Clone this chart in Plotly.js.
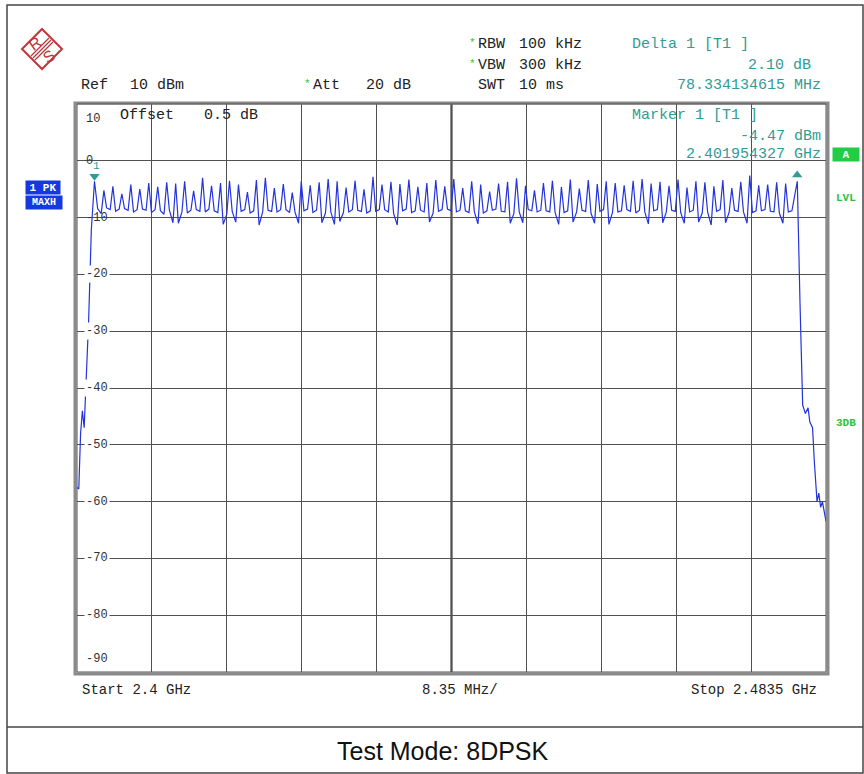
<!DOCTYPE html>
<html>
<head>
<meta charset="utf-8">
<script src="https://cdn.plot.ly/plotly-3.0.1.min.js"></script>
<style>html,body{margin:0;padding:0;background:#fff;}#chart{width:864px;height:774px;}</style>
</head>
<body>
<div id="chart"></div>
<script>
// ---- data ----
const freqMHz = [
  2400.0, 2400.2, 2400.4, 2400.6, 2400.8, 2401.0, 2401.3, 2401.6, 2401.95, 2402.3, 2402.7,
  2403, 2403.3, 2403.7, 2404, 2404.3, 2404.7, 2405, 2405.3, 2405.7, 2406, 2406.3, 2406.7,
  2407, 2407.3, 2407.7, 2408, 2408.3, 2408.7, 2409, 2409.3, 2409.7, 2410, 2410.3, 2410.7,
  2411, 2411.3, 2411.7, 2412, 2412.3, 2412.7, 2413, 2413.3, 2413.7, 2414, 2414.3, 2414.7,
  2415, 2415.3, 2415.7, 2416, 2416.3, 2416.7, 2417, 2417.3, 2417.7, 2418, 2418.3, 2418.7,
  2419, 2419.3, 2419.7, 2420, 2420.3, 2420.7, 2421, 2421.3, 2421.7, 2422, 2422.3, 2422.7,
  2423, 2423.3, 2423.7, 2424, 2424.3, 2424.7, 2425, 2425.3, 2425.7, 2426, 2426.3, 2426.7,
  2427, 2427.3, 2427.7, 2428, 2428.3, 2428.7, 2429, 2429.3, 2429.7, 2430, 2430.3, 2430.7,
  2431, 2431.3, 2431.7, 2432, 2432.3, 2432.7, 2433, 2433.3, 2433.7, 2434, 2434.3, 2434.7,
  2435, 2435.3, 2435.7, 2436, 2436.3, 2436.7, 2437, 2437.3, 2437.7, 2438, 2438.3, 2438.7,
  2439, 2439.3, 2439.7, 2440, 2440.3, 2440.7, 2441, 2441.3, 2441.7, 2442, 2442.3, 2442.7,
  2443, 2443.3, 2443.7, 2444, 2444.3, 2444.7, 2445, 2445.3, 2445.7, 2446, 2446.3, 2446.7,
  2447, 2447.3, 2447.7, 2448, 2448.3, 2448.7, 2449, 2449.3, 2449.7, 2450, 2450.3, 2450.7,
  2451, 2451.3, 2451.7, 2452, 2452.3, 2452.7, 2453, 2453.3, 2453.7, 2454, 2454.3, 2454.7,
  2455, 2455.3, 2455.7, 2456, 2456.3, 2456.7, 2457, 2457.3, 2457.7, 2458, 2458.3, 2458.7,
  2459, 2459.3, 2459.7, 2460, 2460.3, 2460.7, 2461, 2461.3, 2461.7, 2462, 2462.3, 2462.7,
  2463, 2463.3, 2463.7, 2464, 2464.3, 2464.7, 2465, 2465.3, 2465.7, 2466, 2466.3, 2466.7,
  2467, 2467.3, 2467.7, 2468, 2468.3, 2468.7, 2469, 2469.3, 2469.7, 2470, 2470.3, 2470.7,
  2471, 2471.3, 2471.7, 2472, 2472.3, 2472.7, 2473, 2473.3, 2473.7, 2474, 2474.3, 2474.7,
  2475, 2475.3, 2475.7, 2476, 2476.3, 2476.7, 2477, 2477.3, 2477.7, 2478, 2478.3, 2478.7,
  2479, 2479.3, 2479.7, 2480.3, 2480.6, 2480.9, 2481.2, 2481.5, 2481.7,
  2482.0, 2482.2, 2482.5, 2482.7, 2482.9, 2483.1, 2483.3, 2483.5
];
const levelDbm = [
  -57.5, -57.8, -48, -44, -47, -40, -28, -12, -3.6, -8.4, -9.3,
  -5.2, -8.3, -8.6, -4.5, -8.9, -8.5, -5.8, -8.4, -8.7, -4.2, -9.0, -8.6,
  -5.0, -8.5, -8.7, -3.9, -9.1, -8.6, -4.6, -8.8, -9.4, -3.8, -8.7, -10.9,
  -4.0, -11.0, -9.0, -3.6, -9.2, -8.7, -5.3, -8.6, -8.9, -3.0, -9.0, -8.5,
  -4.4, -8.8, -9.1, -3.9, -11.2, -9.4, -3.5, -8.9, -10.8, -4.2, -8.9, -8.6,
  -5.5, -9.2, -8.8, -3.4, -11.3, -9.0, -3.0, -8.7, -8.9, -4.8, -9.0, -8.6,
  -4.1, -8.6, -9.1, -5.6, -9.0, -11.0, -3.6, -8.8, -8.5, -4.3, -9.1, -8.7,
  -3.8, -10.9, -9.2, -3.2, -9.0, -11.2, -3.6, -10.7, -9.1, -4.7, -9.0, -8.6,
  -3.5, -8.7, -8.9, -5.0, -9.2, -8.8, -2.8, -8.9, -8.6, -4.2, -8.6, -9.0,
  -3.7, -9.3, -11.3, -4.1, -8.8, -8.5, -3.3, -9.1, -8.8, -4.6, -8.7, -9.0,
  -3.9, -10.8, -9.2, -3.4, -8.9, -8.6, -4.5, -8.5, -8.8, -3.2, -9.0, -8.7,
  -4.8, -8.8, -9.1, -3.6, -9.0, -11.1, -4.2, -9.2, -8.8, -5.4, -8.7, -8.5,
  -4.0, -8.9, -9.0, -3.7, -11.0, -9.3, -3.1, -9.0, -10.9, -4.4, -8.6, -8.8,
  -5.2, -9.0, -8.7, -3.9, -8.8, -9.0, -3.5, -9.1, -11.2, -4.6, -9.1, -8.8,
  -3.3, -10.8, -9.0, -4.9, -8.7, -8.9, -3.4, -9.2, -11.0, -4.1, -8.9, -8.6,
  -3.6, -11.2, -9.1, -3.9, -9.0, -8.8, -4.3, -8.6, -8.9, -3.5, -9.2, -8.7,
  -3.2, -9.0, -11.1, -4.0, -8.8, -8.6, -3.7, -10.9, -9.0, -4.4, -8.7, -8.9,
  -3.3, -9.1, -11.0, -4.7, -9.0, -8.7, -3.6, -10.8, -9.2, -3.8, -9.0, -11.3,
  -4.5, -8.9, -8.6, -3.4, -10.9, -9.1, -4.8, -8.7, -8.9, -3.7, -9.0, -11.0,
  -2.6, -9.1, -8.8, -4.3, -8.8, -8.6, -4.2, -8.9, -9.0, -3.8, -9.2, -11.0,
  -4.0, -9.0, -8.8, -3.6, -25, -43, -44.5, -43.5, -46,
  -47, -53, -60, -58.5, -61, -60, -62, -63.5
];
const markerFreqs = [2401.954327, 2480.288462];
const markerTriY = [-2.7, -2.5];
const markerSymbols = ['triangle-down', 'triangle-up'];
const yTickVals = [10, 0, -10, -20, -30, -40, -50, -60, -70, -80, -90];
const yTickText = ['10', '0', '-10', '-20', '-30', '-40', '-50', '-60', '-70', '-80', '-90'];
const xStartMHz = 2400, xStopMHz = 2483.5, xDivMHz = 8.35;

// ---- geometry helpers (pixel -> paper) ----
const L = 77, R = 826, T = 104, B = 672;
const px = p => (p - L) / (R - L);
const py = p => (B - p) / (B - T);

const MONO = 'Courier New, Liberation Mono, monospace';
const TEAL = '#2f9c95';
const GREEN = '#2fc03a';
const BLUE = '#1538e0';
const LOGO = '#c0363a';

const ann = [];
function txt(text, x, y, opts) {
  opts = opts || {};
  ann.push({
    text: text, xref: 'paper', yref: 'paper', x: px(x), y: py(y),
    xanchor: opts.xa || 'left', yanchor: 'middle', showarrow: false,
    font: {family: MONO, size: opts.size || 15, color: opts.color || '#222', weight: opts.weight || 'normal'}
  });
}

// header
txt('*', 467, 43, {color: GREEN, size: 11});
txt('RBW', 476, 45);
txt('100 kHz', 517, 45);
txt('*', 467, 64, {color: GREEN, size: 11});
txt('VBW', 476, 66);
txt('300 kHz', 517, 66);
txt('SWT', 476, 86);
txt('10 ms', 517, 86);
txt('Ref', 79, 86);
txt('10 dBm', 128, 86);
txt('*', 302, 84, {color: GREEN, size: 11});
txt('Att', 311, 86);
txt('20 dB', 364, 86);
txt('Delta 1 [T1 ]', 630, 45, {color: TEAL});
txt('2.10 dB', 813, 66, {color: TEAL, xa: 'right'});
txt('78.334134615 MHz', 823, 86, {color: TEAL, xa: 'right'});
txt('Marker 1 [T1 ]', 630, 115, {color: TEAL});
txt('-4.47 dBm', 823, 136, {color: TEAL, xa: 'right'});
txt('2.401954327 GHz', 823, 154, {color: TEAL, xa: 'right'});
txt('Offset', 118, 116);
txt('0.5 dB', 202, 116);
// footer
txt('Start 2.4 GHz', 80, 690, {size: 14});
txt('8.35 MHz/', 420, 690, {size: 14});
txt('Stop 2.4835 GHz', 819, 690, {size: 14, xa: 'right'});
// side labels
txt('LVL', 846, 198, {color: GREEN, size: 11, xa: 'center', weight: 'bold'});
txt('3DB', 846, 423, {color: GREEN, size: 11, xa: 'center', weight: 'bold'});

// blue / green boxes
ann.push({text: '<b>1 PK</b>', xref: 'paper', yref: 'paper', x: px(25), y: py(187), xanchor: 'left', yanchor: 'middle',
  showarrow: false, bgcolor: BLUE, width: 34, height: 13, borderpad: 0, font: {family: MONO, size: 11, color: '#fff'}});
ann.push({text: '<b>MAXH</b>', xref: 'paper', yref: 'paper', x: px(25), y: py(202), xanchor: 'left', yanchor: 'middle',
  showarrow: false, bgcolor: BLUE, width: 36, height: 13, borderpad: 0, font: {family: MONO, size: 10, color: '#fff'}});
ann.push({text: '<b>A</b>', xref: 'paper', yref: 'paper', x: px(832), y: py(154), xanchor: 'left', yanchor: 'middle',
  showarrow: false, bgcolor: '#22cc44', width: 26, height: 13, borderpad: 0, font: {family: MONO, size: 11, color: '#fff'}});

// y tick labels inside the grid
yTickVals.forEach((v, i) => {
  let anchor = 'middle';
  if (v === 10) { anchor = 'top'; }
  if (v === -90) { anchor = 'bottom'; }
  ann.push({text: yTickText[i], xref: 'paper', yref: 'y', x: px(84), y: v, xanchor: 'left', yanchor: anchor,
    yshift: v === 10 ? -6 : (v === -90 ? 4 : 0),
    showarrow: false, bgcolor: (v <= -20 && v >= -80) ? '#ffffff' : 'rgba(0,0,0,0)', borderpad: 1,
    font: {family: MONO, size: 12, color: '#333'}});
});
// marker label "1"
ann.push({text: '1', xref: 'x', yref: 'y', x: markerFreqs[0], y: markerTriY[0], yshift: 10, xshift: 2, showarrow: false,
  xanchor: 'center', yanchor: 'middle', font: {family: MONO, size: 11, color: TEAL}});
// R&S logo letters
ann.push({text: 'R', xref: 'paper', yref: 'paper', x: px(35), y: py(43), showarrow: false, xanchor: 'center', yanchor: 'middle',
  textangle: -35, font: {family: 'Liberation Sans, Arial', size: 16, color: LOGO}});
ann.push({text: 'S', xref: 'paper', yref: 'paper', x: px(49), y: py(57), showarrow: false, xanchor: 'center', yanchor: 'middle',
  textangle: -35, font: {family: 'Liberation Sans, Arial', size: 16, color: LOGO}});
// bottom caption
ann.push({text: 'Test Mode: 8DPSK', xref: 'paper', yref: 'paper', x: px(443), y: py(751), showarrow: false,
  xanchor: 'center', yanchor: 'middle', font: {family: 'Liberation Sans, Arial, sans-serif', size: 25, color: '#111'}});

// shapes
function line(x0, y0, x1, y1, color, w) {
  return {type: 'line', xref: 'paper', yref: 'paper', x0: px(x0), y0: py(y0), x1: px(x1), y1: py(y1),
    line: {color: color, width: w}};
}
function pathPx(points) {
  return 'M' + points.map(p => px(p[0]) + ',' + py(p[1])).join(' L') + ' Z';
}
const shapes = [
  {type: 'rect', xref: 'paper', yref: 'paper', x0: px(7), y0: py(5), x1: px(863), y1: py(773),
    line: {color: '#444', width: 1.5}, layer: 'below'},
  line(7, 727, 863, 727, '#444', 1.5),
  // plot frame (double grey)
  {type: 'rect', xref: 'paper', yref: 'paper', x0: px(L - 2), y0: py(B + 2), x1: px(R + 2), y1: py(T - 1),
    line: {color: '#8a8a8a', width: 3}},
  {type: 'rect', xref: 'paper', yref: 'paper', x0: 0, y0: 0, x1: 1, y1: 1, line: {color: '#555', width: 1}},
  // centre division line
  {type: 'line', xref: 'x', yref: 'paper', x0: (xStartMHz + xStopMHz) / 2, x1: (xStartMHz + xStopMHz) / 2, y0: 0, y1: 1,
    line: {color: '#222', width: 2}, layer: 'below'},
  // R&S diamond
  {type: 'path', xref: 'paper', yref: 'paper', path: pathPx([[42, 29], [62, 49], [42, 69], [22, 49]]),
    line: {color: LOGO, width: 2}},
  line(51, 40, 33, 58, LOGO, 1.2),
  line(53, 42, 35, 60, LOGO, 1.2),
  line(49, 38, 31, 56, LOGO, 1.2)
];

const traces = [
  {x: freqMHz, y: levelDbm, type: 'scatter', mode: 'lines', line: {color: '#2434dc', width: 1.2}, hoverinfo: 'skip'},
  {x: markerFreqs, y: markerTriY, type: 'scatter', mode: 'markers',
    marker: {symbol: markerSymbols, size: 9, color: TEAL}, hoverinfo: 'skip'}
];

const layout = {
  width: 864, height: 774,
  margin: {l: L, r: 864 - R, t: T, b: 774 - B, pad: 0},
  paper_bgcolor: '#ffffff', plot_bgcolor: '#ffffff',
  showlegend: false,
  font: {family: MONO},
  xaxis: {range: [xStartMHz, xStopMHz], tick0: xStartMHz, dtick: xDivMHz, showticklabels: false, ticks: '',
    showgrid: true, gridcolor: '#505050', gridwidth: 1, zeroline: false, showline: false, fixedrange: true},
  yaxis: {range: [-90, 10], tick0: 0, dtick: 10, showticklabels: false, ticks: '',
    showgrid: true, gridcolor: '#505050', gridwidth: 1, zeroline: false, showline: false, fixedrange: true},
  annotations: ann,
  shapes: shapes
};

Plotly.newPlot('chart', traces, layout, {staticPlot: true, displayModeBar: false});
</script>
</body>
</html>
